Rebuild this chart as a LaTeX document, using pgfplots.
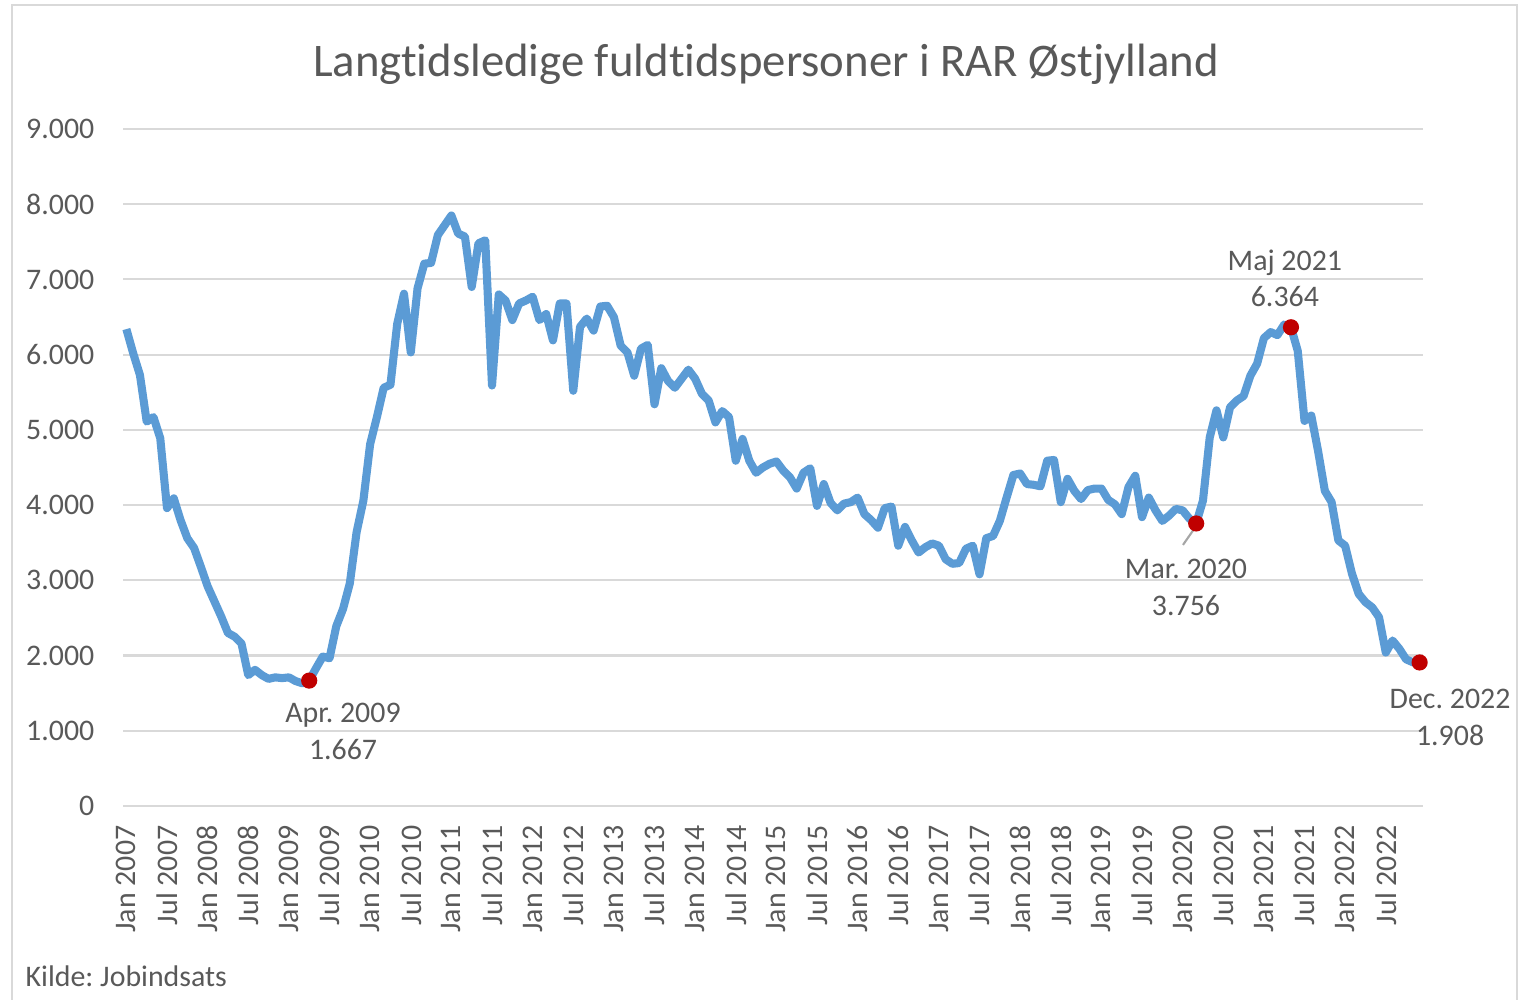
\documentclass[border=0pt]{standalone}
\usepackage{pgfplots}
\pgfplotsset{compat=1.18}
\usepackage{pgfplotstable}
\usepackage{fontspec}
\setmainfont[Ligatures=NoCommon]{Carlito}
\frenchspacing
\definecolor{txt}{HTML}{595959}
\definecolor{ln}{HTML}{5B9BD5}
\definecolor{mk}{HTML}{C00000}
\definecolor{grd}{HTML}{D9D9D9}
\pgfplotstableread{
m v
0 6340
1 6020
2 5730
3 5110
4 5170
5 4890
6 3960
7 4090
8 3800
9 3560
10 3430
11 3180
12 2920
13 2720
14 2520
15 2300
16 2250
17 2160
18 1740
19 1810
20 1740
21 1690
22 1710
23 1700
24 1710
25 1660
26 1630
27 1667
28 1830
29 1986
30 1964
31 2390
32 2620
33 2960
34 3640
35 4060
36 4810
37 5170
38 5560
39 5600
40 6410
41 6810
42 6030
43 6880
44 7210
45 7220
46 7590
47 7720
48 7850
49 7610
50 7570
51 6900
52 7480
53 7520
54 5590
55 6800
56 6720
57 6460
58 6680
59 6720
60 6770
61 6460
62 6540
63 6190
64 6680
65 6680
66 5520
67 6370
68 6480
69 6320
70 6640
71 6650
72 6500
73 6120
74 6030
75 5720
76 6080
77 6130
78 5340
79 5820
80 5650
81 5560
82 5680
83 5800
84 5680
85 5480
86 5390
87 5100
88 5250
89 5170
90 4590
91 4880
92 4590
93 4430
94 4500
95 4550
96 4580
97 4460
98 4370
99 4220
100 4430
101 4490
102 3990
103 4280
104 4030
105 3930
106 4020
107 4040
108 4100
109 3880
110 3800
111 3700
112 3960
113 3980
114 3460
115 3710
116 3530
117 3370
118 3440
119 3490
120 3460
121 3280
122 3220
123 3230
124 3420
125 3460
126 3080
127 3560
128 3590
129 3790
130 4100
131 4400
132 4420
133 4280
134 4270
135 4250
136 4590
137 4600
138 4040
139 4350
140 4190
141 4080
142 4200
143 4220
144 4220
145 4070
146 4010
147 3880
148 4240
149 4390
150 3840
151 4100
152 3930
153 3790
154 3860
155 3950
156 3930
157 3820
158 3756
159 4060
160 4900
161 5260
162 4900
163 5300
164 5390
165 5450
166 5720
167 5880
168 6220
169 6300
170 6260
171 6400
172 6364
173 6050
174 5120
175 5190
176 4720
177 4190
178 4040
179 3530
180 3460
181 3090
182 2820
183 2710
184 2640
185 2510
186 2040
187 2200
188 2090
189 1950
190 1910
191 1908
}\datatable
\begin{document}
\begin{tikzpicture}
\useasboundingbox (0,0) rectangle (15.19,10);
% frame
\draw[grd, line width=0.2mm] (0.12,0) -- (0.12,9.95) -- (15.17,9.95) -- (15.17,0);
\begin{axis}[
  at={(1.23cm,1.94cm)}, anchor=south west,
  scale only axis, width=13cm, height=6.77cm,
  xmin=-0.5, xmax=191.5, ymin=0, ymax=9000,
  clip=false,
  axis line style={draw=none},
  tick style={draw=none},
  major tick length=0pt,
  ymajorgrids, grid style={grd, line width=0.6pt},
  ytick={0,1000,...,9000},
  scaled y ticks=false,
  /pgf/number format/.cd, 1000 sep={.}, assume math mode=true,
  /pgfplots/.cd,
  yticklabel style={font=\fontsize{8.5}{10}\selectfont, text=txt, inner sep=0pt, anchor=east, xshift=-2.8mm},
  xtick={0,6,...,186},
  xticklabels={Jan 2007,Jul 2007,Jan 2008,Jul 2008,Jan 2009,Jul 2009,Jan 2010,Jul 2010,Jan 2011,Jul 2011,Jan 2012,Jul 2012,Jan 2013,Jul 2013,Jan 2014,Jul 2014,Jan 2015,Jul 2015,Jan 2016,Jul 2016,Jan 2017,Jul 2017,Jan 2018,Jul 2018,Jan 2019,Jul 2019,Jan 2020,Jul 2020,Jan 2021,Jul 2021,Jan 2022,Jul 2022},
  xticklabel style={font=\fontsize{8.5}{10}\selectfont, text=txt, yshift=-1.9mm, rotate=90, anchor=east, inner sep=0pt},
]
\addplot[ln, line width=2.3pt, line join=round, mark=none] table[x=m, y=v] {\datatable};
\addplot[only marks, mark=*, mark size=2.1pt, mk] coordinates {(27,1667) (158,3756) (172,6364) (191,1908)};
\draw[gray!70, line width=0.6pt] (axis cs:157.8,3697) -- (axis cs:156.05,3471);
\node[align=center, text=txt, font=\fontsize{8.5}{10.5}\selectfont] at (axis cs:32.0,997) {Apr. 2009\\1.667};
\node[align=center, text=txt, font=\fontsize{8.5}{10.5}\selectfont] at (axis cs:156.5,2906) {Mar. 2020\\3.756};
\node[align=center, text=txt, font=\fontsize{8.5}{10.5}\selectfont] at (axis cs:171.1,7015) {Maj 2021\\6.364};
\node[align=center, text=txt, font=\fontsize{8.5}{10.5}\selectfont] at (axis cs:195.5,1177) {Dec. 2022\\1.908};
\end{axis}
\node[anchor=base, text=txt, font=\fontsize{13.3}{16}\selectfont, inner sep=0pt] at (7.66,9.23) {Langtidsledige fuldtidspersoner i RAR Østjylland};
\node[anchor=base west, text=txt, font=\fontsize{8.5}{10}\selectfont, inner sep=0pt] at (0.25,0.13) {Kilde: Jobindsats};
\end{tikzpicture}
\end{document}
